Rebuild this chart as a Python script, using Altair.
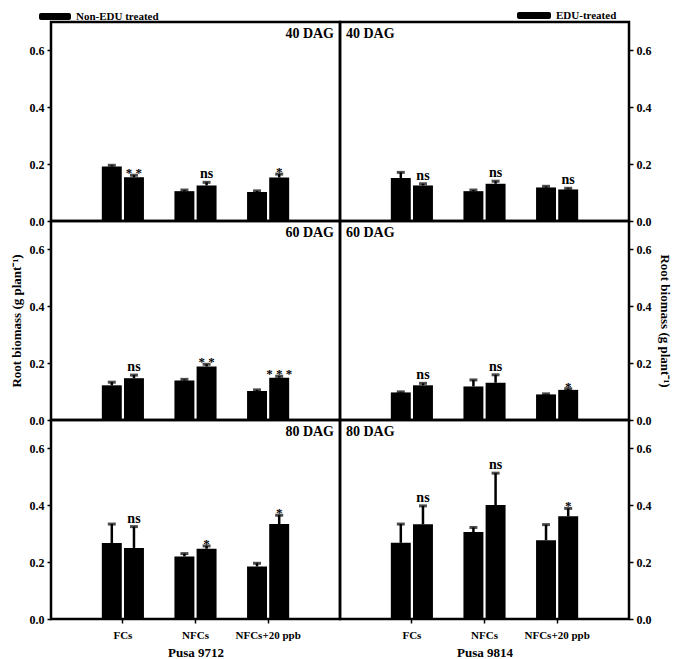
import altair as alt
import pandas as pd

categories = ["FCs", "NFCs", "NFCs+20 ppb"]
groups = ["Non-EDU treated", "EDU-treated"]
varieties = ["Pusa 9712", "Pusa 9814"]
stages = ["40 DAG", "60 DAG", "80 DAG"]
y_ticks = [0.0, 0.2, 0.4, 0.6]
y_title = "Root biomass (g plant\u207b\u00b9)"

# Root biomass means and SE, order: FCs, NFCs, NFCs+20 ppb
p9712_40_non = [0.192, 0.105, 0.102]
p9712_40_non_se = [0.004, 0.004, 0.004]
p9712_40_edu = [0.154, 0.125, 0.153]
p9712_40_edu_se = [0.007, 0.011, 0.012]
p9712_40_sig = ["* *", "ns", "*"]

p9814_40_non = [0.151, 0.105, 0.118]
p9814_40_non_se = [0.020, 0.004, 0.004]
p9814_40_edu = [0.125, 0.131, 0.111]
p9814_40_edu_se = [0.006, 0.009, 0.004]
p9814_40_sig = ["ns", "ns", "ns"]

p9712_60_non = [0.122, 0.139, 0.102]
p9712_60_non_se = [0.011, 0.004, 0.004]
p9712_60_edu = [0.147, 0.188, 0.149]
p9712_60_edu_se = [0.011, 0.008, 0.005]
p9712_60_sig = ["ns", "* *", "* * *"]

p9814_60_non = [0.097, 0.118, 0.090]
p9814_60_non_se = [0.002, 0.023, 0.002]
p9814_60_edu = [0.122, 0.131, 0.106]
p9814_60_edu_se = [0.007, 0.028, 0.004]
p9814_60_sig = ["ns", "ns", "*"]

p9712_80_non = [0.267, 0.220, 0.185]
p9712_80_non_se = [0.067, 0.010, 0.011]
p9712_80_edu = [0.250, 0.247, 0.334]
p9712_80_edu_se = [0.075, 0.010, 0.031]
p9712_80_sig = ["ns", "*", "*"]

p9814_80_non = [0.268, 0.306, 0.277]
p9814_80_non_se = [0.066, 0.016, 0.055]
p9814_80_edu = [0.333, 0.401, 0.361]
p9814_80_edu_se = [0.065, 0.112, 0.028]
p9814_80_sig = ["ns", "ns", "*"]

series = {
    ("Pusa 9712", "40 DAG"): (p9712_40_non, p9712_40_non_se, p9712_40_edu, p9712_40_edu_se, p9712_40_sig),
    ("Pusa 9814", "40 DAG"): (p9814_40_non, p9814_40_non_se, p9814_40_edu, p9814_40_edu_se, p9814_40_sig),
    ("Pusa 9712", "60 DAG"): (p9712_60_non, p9712_60_non_se, p9712_60_edu, p9712_60_edu_se, p9712_60_sig),
    ("Pusa 9814", "60 DAG"): (p9814_60_non, p9814_60_non_se, p9814_60_edu, p9814_60_edu_se, p9814_60_sig),
    ("Pusa 9712", "80 DAG"): (p9712_80_non, p9712_80_non_se, p9712_80_edu, p9712_80_edu_se, p9712_80_sig),
    ("Pusa 9814", "80 DAG"): (p9814_80_non, p9814_80_non_se, p9814_80_edu, p9814_80_edu_se, p9814_80_sig),
}

FONT = "Liberation Serif, Times New Roman, serif"
W, H = 289, 199


def panel_df(variety, stage):
    non, non_se, edu, edu_se, sig = series[(variety, stage)]
    rows = []
    for i, c in enumerate(categories):
        rows.append(dict(category=c, group=groups[0], mean=non[i], upper=non[i] + non_se[i], sig=""))
        rows.append(dict(category=c, group=groups[1], mean=edu[i], upper=edu[i] + edu_se[i], sig=sig[i]))
    return pd.DataFrame(rows)


def panel(r, c):
    variety = varieties[c]
    stage = stages[r]
    d = panel_df(variety, stage)
    base = alt.Chart(d)

    xscale = alt.Scale(domain=categories, paddingInner=0.42, paddingOuter=0.7)
    if r == 2:
        xaxis = alt.Axis(labelAngle=0, ticks=True, tickSize=4, domain=False, labelPadding=6,
                         labelFontSize=11, titleFontSize=13, titlePadding=6)
        x = alt.X("category:N", sort=categories, scale=xscale, axis=xaxis, title=variety)
    else:
        x = alt.X("category:N", sort=categories, scale=xscale, axis=None)
    xo = alt.XOffset("group:N", sort=groups, scale=alt.Scale(domain=groups, paddingInner=0.1))

    yaxis = alt.Axis(orient="left" if c == 0 else "right", values=y_ticks, format=".1f",
                     domain=False, grid=False, tickSize=4, labelPadding=3, titlePadding=6)
    yscale = alt.Scale(domain=[0, 0.7], nice=False, zero=True)
    ytitle = y_title if r == 1 else None

    def Y(field):
        return alt.Y(field, scale=yscale, axis=yaxis, title=ytitle)

    bars = base.mark_bar(color="black").encode(x=x, xOffset=xo, y=Y("mean:Q"))
    rules = base.mark_rule(color="black", strokeWidth=2.5).encode(
        x=x, xOffset=xo, y=Y("mean:Q"), y2="upper:Q")
    caps = base.mark_tick(color="black", thickness=3, size=8).encode(
        x=x, xOffset=xo, y=Y("upper:Q"))
    ns_txt = base.transform_filter("datum.sig == 'ns'").mark_text(
        font=FONT, fontWeight="bold", fontSize=14, baseline="bottom", dy=-1, color="black"
    ).encode(x=x, xOffset=xo, y=Y("upper:Q"), text="sig:N")
    st_txt = base.transform_filter("indexof(datum.sig, '*') >= 0").mark_text(
        font=FONT, fontWeight="bold", fontSize=13, baseline="bottom", dy=5, color="black"
    ).encode(x=x, xOffset=xo, y=Y("upper:Q"), text="sig:N")

    dag_df = pd.DataFrame({"stage": [stage]})
    if c == 0:
        dag = alt.Chart(dag_df).mark_text(font=FONT, fontWeight="bold", fontSize=14, align="right",
                                          baseline="top", color="black").encode(
            x=alt.value(W - 6), y=alt.value(5), text="stage:N")
    else:
        dag = alt.Chart(dag_df).mark_text(font=FONT, fontWeight="bold", fontSize=14, align="left",
                                          baseline="top", color="black").encode(
            x=alt.value(6), y=alt.value(5), text="stage:N")

    layers = [bars, rules, caps, ns_txt, st_txt, dag]

    if r == 0:
        lg_df = pd.DataFrame({"label": [groups[c]]})
        if c == 0:
            x0, x1, ty = -12, 20, -5
        else:
            x0, x1, ty = 177, 211, -6
        sw = alt.Chart(lg_df).mark_rect(color="black", cornerRadius=2).encode(
            x=alt.value(x0), x2=alt.value(x1), y=alt.value(ty - 4), y2=alt.value(ty + 3))
        lt = alt.Chart(lg_df).mark_text(font=FONT, fontWeight="bold", fontSize=11, align="left",
                                        baseline="middle", color="black").encode(
            x=alt.value(x1 + 5), y=alt.value(ty), text="label:N")
        layers += [sw, lt]

    return alt.layer(*layers).properties(width=W, height=H)


panels = [panel(r, c) for r in range(3) for c in range(2)]

chart = alt.concat(*panels, columns=2, spacing=0, bounds="flush").properties(padding=0).configure_view(
    stroke="black", strokeWidth=2.5
).configure_axis(
    labelFont=FONT, labelFontWeight="bold", labelFontSize=12, labelColor="black",
    titleFont=FONT, titleFontWeight="bold", titleFontSize=13, titleColor="black",
    tickColor="black", tickWidth=1.5
)

chart.save("out.html", embed_options={"renderer": "svg", "actions": False})
